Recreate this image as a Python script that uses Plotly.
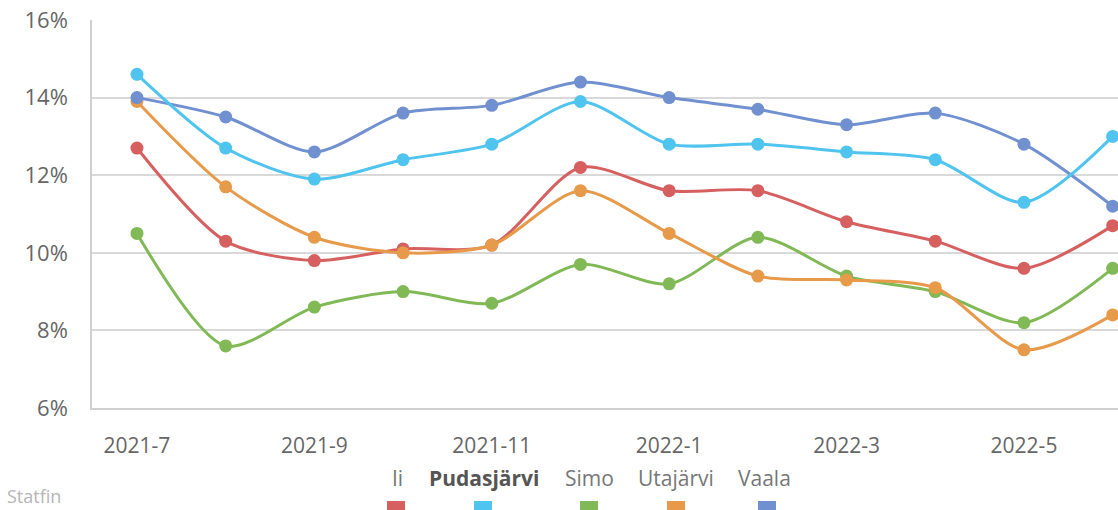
import plotly.graph_objects as go

months = ["2021-7", "2021-8", "2021-9", "2021-10", "2021-11", "2021-12",
          "2022-1", "2022-2", "2022-3", "2022-4", "2022-5", "2022-6"]
ii = [12.7, 10.3, 9.8, 10.1, 10.2, 12.2, 11.6, 11.6, 10.8, 10.3, 9.6, 10.7]
pudasjarvi = [14.6, 12.7, 11.9, 12.4, 12.8, 13.9, 12.8, 12.8, 12.6, 12.4, 11.3, 13.0]
simo = [10.5, 7.6, 8.6, 9.0, 8.7, 9.7, 9.2, 10.4, 9.4, 9.0, 8.2, 9.6]
utajarvi = [13.9, 11.7, 10.4, 10.0, 10.2, 11.6, 10.5, 9.4, 9.3, 9.1, 7.5, 8.4]
vaala = [14.0, 13.5, 12.6, 13.6, 13.8, 14.4, 14.0, 13.7, 13.3, 13.6, 12.8, 11.2]

series_names = ["Ii", "Pudasjärvi", "Simo", "Utajärvi", "Vaala"]
series_values = [ii, pudasjarvi, simo, utajarvi, vaala]
colors = ["#d65f5f", "#4fc4ee", "#80b955", "#e69a4a", "#7190cf"]

W, H = 1118, 510
L, R, T, B = 92, 0, 20, 102
FONT = "Open Sans, Segoe UI, sans-serif"

fig = go.Figure()
draw_order = [0, 2, 3, 4, 1]
for i in draw_order:
    fig.add_trace(go.Scatter(
        x=months, y=series_values[i], name=series_names[i],
        mode="lines+markers",
        line=dict(color=colors[i], width=3, shape="spline", smoothing=0.8),
        marker=dict(color=colors[i], size=13),
        showlegend=False,
    ))

fig.update_layout(
    width=W, height=H,
    margin=dict(l=L, r=R, t=T, b=B),
    paper_bgcolor="white", plot_bgcolor="white",
    font=dict(family=FONT, color="#666666", size=21),
    xaxis=dict(
        type="category", range=[-0.507, 11.06],
        tickvals=months[::2], ticktext=months[::2],
        showgrid=False, showline=True, linecolor="#d0d0d0", linewidth=1.5,
        ticks="", ticklabelstandoff=18, tickfont=dict(size=21, color="#666666"),
        zeroline=False,
    ),
    yaxis=dict(
        range=[6, 16], tickvals=[6, 8, 10, 12, 14, 16],
        ticktext=["6%", "8%", "10%", "12%", "14%", "16%"],
        showgrid=True, gridcolor="#d9d9d9", gridwidth=1.5,
        showline=True, linecolor="#d0d0d0", linewidth=1.5,
        ticks="", ticklabelstandoff=18, tickfont=dict(size=22, color="#666666"),
        zeroline=False,
    ),
)

pw, ph = W - L - R, H - T - B
def px(x):
    return (x - L) / pw
def py(y):
    return (H - B - y) / ph

legend_x = [397, 484, 589, 676, 764]
sq_x = [396, 483, 589, 676, 767]
for i, name in enumerate(series_names):
    txt = f"<b>{name}</b>" if name == "Pudasjärvi" else name
    fig.add_annotation(
        x=px(legend_x[i]), y=py(478), xref="paper", yref="paper",
        text=txt, showarrow=False, xanchor="center", yanchor="middle",
        font=dict(family=FONT, size=21, color="#555555" if name == "Pudasjärvi" else "#777777"),
    )
    fig.add_shape(
        type="rect", xref="paper", yref="paper",
        x0=px(sq_x[i] - 9), x1=px(sq_x[i] + 9), y0=py(510), y1=py(501),
        fillcolor=colors[i], line=dict(width=0),
    )

fig.add_annotation(
    x=px(6), y=py(496), xref="paper", yref="paper", text="Statfin",
    showarrow=False, xanchor="left", yanchor="middle", borderpad=0,
    font=dict(family=FONT, size=18, color="#b5b5b5"),
)

fig.write_html(
    "out.html",
    config={"displayModeBar": False},
    post_script="document.body.style.margin='0';document.body.style.overflow='hidden';",
)
